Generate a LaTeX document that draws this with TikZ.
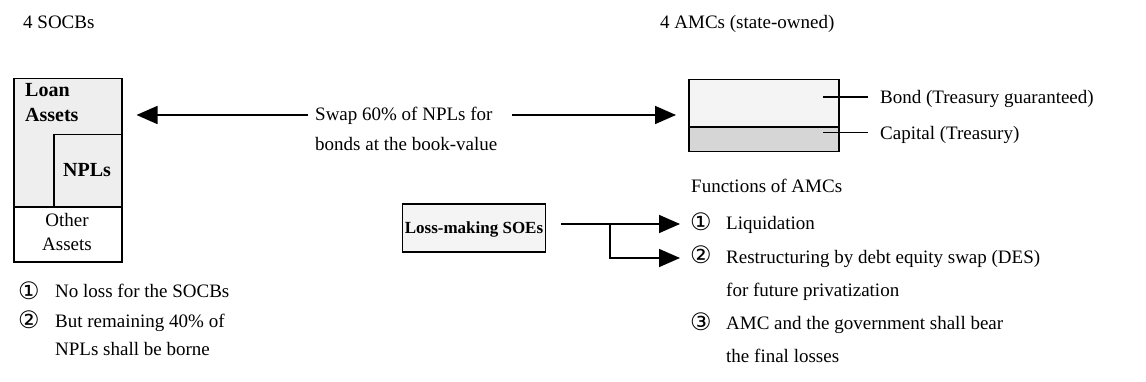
\documentclass[tikz,border=0pt]{standalone}
\usepackage{fontspec}
\setmainfont{Liberation Serif}
\newfontfamily\circfont{DejaVu Sans}
\usetikzlibrary{arrows.meta}
\newcommand{\circnum}[1]{{\circfont\fontsize{24}{26}\selectfont #1}}
\begin{document}
\begin{tikzpicture}[x=1pt,y=-1pt,
  txt/.style={font=\fontsize{19}{23}\selectfont, inner sep=0pt, anchor=base west},
  btxt/.style={font=\fontsize{20}{24}\selectfont\bfseries, inner sep=0pt},
  boxline/.style={draw=black, line width=1.5pt},
  arr/.style={line width=1.7pt, -{Triangle[length=21pt,width=18pt]}},
  leader/.style={line width=1.5pt}]
\useasboundingbox (0,0) rectangle (1146,382);
% headers
\node[txt] (h1) at (23,29) {4 SOCBs};
\node[txt] (h2) at (660,29) {4 AMCs (state-owned)};
% SOCB balance sheet
\fill[gray!13] (13,78) rectangle (121,207);
\node[boxline, anchor=north west, minimum width=108pt, minimum height=183pt, inner sep=0pt] (socb) at (13,78) {};
\node[boxline, fill=gray!13, anchor=north west, minimum width=68pt, minimum height=73pt, inner sep=0pt] (npl) at (53,134) {};
\draw[boxline] (13,207) -- (121,207);
\node[btxt, anchor=base west] (loan1) at (25,97) {Loan};
\node[btxt, anchor=base west] (loan2) at (25,122) {Assets};
\node[btxt, anchor=base] (npltxt) at (87,177) {NPLs};
\node[txt, anchor=base] (oth1) at (67,227) {Other};
\node[txt, anchor=base] (oth2) at (67,251) {Assets};
% swap text and arrows
\node[txt] (sw1) at (315,121) {Swap 60\% of NPLs for};
\node[txt] (sw2) at (315,151) {bonds at the book-value};
\coordinate (la) at (308,115);
\coordinate (ra) at (512,115);
\draw[arr, shorten >=14pt] (la) -- (la -| socb.east);
% AMC balance sheet
\fill[gray!9] (688,79) rectangle (838,127);
\fill[gray!32] (688,127) rectangle (838,151);
\node[boxline, anchor=north west, minimum width=150pt, minimum height=72pt, inner sep=0pt] (amc) at (688,79) {};
\draw[boxline] (688,127) -- (838,127);
\draw[arr, shorten >=12pt] (ra) -- (ra -| amc.west);
\coordinate (b1) at (823,97);
\coordinate (c1) at (823,133);
\node[txt] (bond) at (880,104) {Bond (Treasury guaranteed)};
\node[txt] (cap) at (880,140) {Capital (Treasury)};
\draw[leader] (b1) -- ([xshift=-12pt]b1 -| bond.west);
\draw[leader, line width=1pt] (c1) -- ([xshift=-12pt]c1 -| cap.west);
% loss-making SOEs
\node[boxline, fill=gray!9, minimum width=143pt, minimum height=48pt, inner sep=0pt] (loss) at (474,228) {};
\node[btxt, anchor=base, font=\fontsize{17}{20}\selectfont\bfseries] (losstxt) at (474,234) {Loss-making SOEs};
% functions of AMCs
\node[txt] (fn) at (691,193) {Functions of AMCs};
\node[txt] (f1n) at (690,231) {\circnum{①}};
\node[txt] (f1) at (726,230) {Liquidation};
\node[txt] (f2n) at (690,264) {\circnum{②}};
\node[txt] (f2) at (726,263) {Restructuring by debt equity swap (DES)};
\node[txt] (f2b) at (726,296) {for future privatization};
\node[txt] (f3n) at (690,330) {\circnum{③}};
\node[txt] (f3) at (726,329) {AMC and the government shall bear};
\node[txt] (f3b) at (726,362) {the final losses};
\coordinate (br) at (610,224);
\draw[arr, shorten <=15pt, shorten >=10pt] (loss.east |- br) -- (br) -- (br -| f1n.west);
\draw[arr, shorten >=10pt] (br) |- (f2n.west |- 0,258);
% SOCB remarks
\node[txt] (s1n) at (18,299) {\circnum{①}};
\node[txt] (s1) at (55,298) {No loss for the SOCBs};
\node[txt] (s2n) at (18,328) {\circnum{②}};
\node[txt] (s2) at (55,327) {But remaining 40\% of};
\node[txt] (s2b) at (55,355) {NPLs shall be borne};
\end{tikzpicture}
\end{document}
